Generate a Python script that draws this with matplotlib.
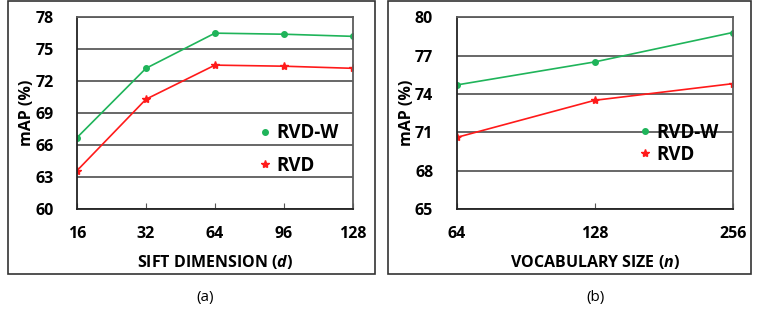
"""
mAP vs SIFT dimension and vocabulary size, RVD / RVD-W
"""
import matplotlib
matplotlib.use('Agg')
import matplotlib.pyplot as plt
from matplotlib.patches import Rectangle

plt.rcParams['font.family'] = ['Open Sans', 'DejaVu Sans']
plt.rcParams['mathtext.fontset'] = 'custom'
plt.rcParams['mathtext.it'] = 'Open Sans:italic:bold'

# panel (a): SIFT dimension
dims = ['16', '32', '64', '96', '128']
rvdw_dim = [66.7, 73.2, 76.5, 76.4, 76.2]
rvd_dim = [63.6, 70.3, 73.5, 73.4, 73.2]
yticks_a = [60, 63, 66, 69, 72, 75, 78]

# panel (b): vocabulary size
vocab = ['64', '128', '256']
rvdw_voc = [74.7, 76.5, 78.8]
rvd_voc = [70.6, 73.5, 74.8]
yticks_b = [65, 68, 71, 74, 77, 80]

GREEN = '#1fb45a'
RED = '#ff1a1a'
GRID = '#5c5c5c'


def draw_panel(ax, xlabels, wvals, vals, yticks, xlabel, spacing, anchor):
    x = list(range(len(xlabels)))
    ax.plot(x, wvals, color=GREEN, lw=1.2, marker='o', ms=4, label='RVD-W')
    ax.plot(x, vals, color=RED, lw=1.2, marker='*', ms=6, label='RVD')

    ax.set_xlim(0, len(xlabels) - 1)
    ax.set_ylim(yticks[0], yticks[-1])
    ax.set_xticks(x)
    ax.set_xticklabels(xlabels)
    ax.set_yticks(yticks)
    ax.yaxis.grid(True, color=GRID, lw=1.3)
    ax.set_axisbelow(True)

    for s in ['top', 'right']:
        ax.spines[s].set_color(GRID)
        ax.spines[s].set_linewidth(1.3)
    for s in ['left', 'bottom']:
        ax.spines[s].set_color('#222222')
        ax.spines[s].set_linewidth(1.3)

    ax.tick_params(axis='x', direction='in', length=4, color='#555555', pad=12)
    ax.tick_params(axis='y', length=0, pad=17)
    for t in ax.get_xticklabels() + ax.get_yticklabels():
        t.set_fontweight('bold')
        t.set_fontsize(11.5)

    ax.set_xlabel(xlabel, fontsize=11.5, fontweight='bold', labelpad=8)
    ax.set_ylabel('mAP (%)', fontsize=11.5, fontweight='bold', labelpad=0)

    leg = ax.legend(loc='center left', bbox_to_anchor=anchor, frameon=False,
                    handlelength=0.6, handletextpad=0.3, labelspacing=spacing,
                    prop={'weight': 'bold', 'size': 13.5})
    for h in leg.legend_handles:
        h.set_linestyle('none')


fig = plt.figure(figsize=(7.6, 3.12), dpi=100)
ax1 = fig.add_axes([0.1013, 0.330, 0.363, 0.615])
ax2 = fig.add_axes([0.601, 0.330, 0.363, 0.615])

draw_panel(ax1, dims, rvdw_dim, rvd_dim, yticks_a,
           'SIFT DIMENSION ($d$)', 0.68, (0.60, 0.31))
draw_panel(ax2, vocab, rvdw_voc, rvd_voc, yticks_b,
           'VOCABULARY SIZE ($n$)', 0.08, (0.60, 0.34))

# outer frames around each panel
fig.add_artist(Rectangle((0.0105, 0.122), 0.483, 0.875, transform=fig.transFigure,
                         fill=False, ec='#333333', lw=1.2))
fig.add_artist(Rectangle((0.5105, 0.122), 0.478, 0.875, transform=fig.transFigure,
                         fill=False, ec='#333333', lw=1.2))

fig.text(0.27, 0.048, '(a)', ha='center', va='center', fontsize=11)
fig.text(0.783, 0.048, '(b)', ha='center', va='center', fontsize=11)

fig.savefig('out.png', dpi=100)
